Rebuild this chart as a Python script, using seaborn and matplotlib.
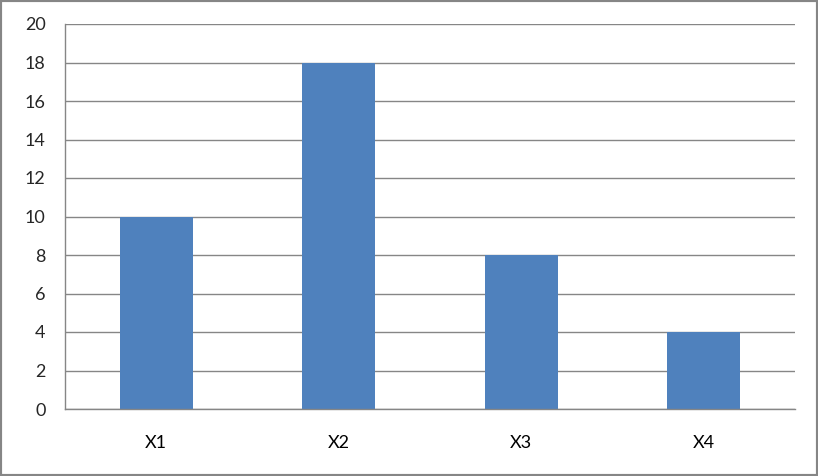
import matplotlib
matplotlib.use("Agg")
import matplotlib.pyplot as plt
import seaborn as sns
import pandas as pd
from matplotlib.patches import Rectangle

categories = ["X1", "X2", "X3", "X4"]
values = [10, 18, 8, 4]
yticks = [0, 2, 4, 6, 8, 10, 12, 14, 16, 18, 20]

sns.set_style("white")
plt.rcParams['font.family'] = ['Lato', 'DejaVu Sans']

df = pd.DataFrame({"cat": categories, "val": values})

fig = plt.figure(figsize=(8.18, 4.76), dpi=100)
ax = fig.add_axes([65/818, 1-409/476, (795-65)/818, (409-24)/476])

sns.barplot(data=df, x="cat", y="val", color="#4F81BD", saturation=1, width=0.4,
            ax=ax, zorder=3, edgecolor="none", linewidth=0)

grid_c = "#868686"
ax.set_ylim(0, 20)
ax.set_xlim(-0.5, len(categories) - 0.5)
ax.set_yticks(yticks)
ax.set_yticklabels([str(t) for t in yticks])
for t in yticks:
    ax.axhline(t, color=grid_c, lw=1, zorder=1)
ax.set_xticks(range(len(categories)))
ax.set_xticklabels(categories)
ax.set_xticks([i - 0.5 for i in range(len(categories) + 1)], minor=True)
ax.tick_params(axis="x", which="major", length=0, pad=19, labelsize=13, colors="black")
ax.tick_params(axis="x", which="minor", length=6, width=1, color=grid_c, direction="out")
ax.tick_params(axis="y", length=6, width=1, color=grid_c, direction="out", pad=8, labelsize=13)
ax.set_xlabel("")
ax.set_ylabel("")
for s in ["top", "right"]:
    ax.spines[s].set_visible(False)
for s in ["left", "bottom"]:
    ax.spines[s].set_color(grid_c)
    ax.spines[s].set_linewidth(1)
    ax.spines[s].set_zorder(4)

fig.patches.append(Rectangle((0, 0), 1, 1, transform=fig.transFigure, fill=False,
                             edgecolor="#868686", linewidth=3, zorder=10))

fig.savefig("out.png", dpi=100)
